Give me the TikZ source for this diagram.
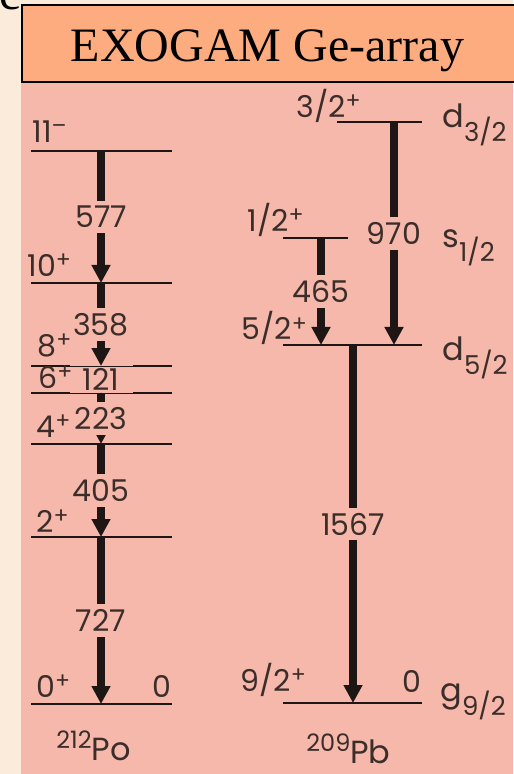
\documentclass[tikz,border=0pt]{standalone}
\usepackage{fontspec}
\setmainfont{Liberation Serif}
\newfontfamily\lblfont{Poppins}
\usetikzlibrary{arrows.meta}
\definecolor{creambg}{HTML}{FBEBDA}
\definecolor{titlebg}{HTML}{FCAC7E}
\definecolor{pinkbg}{HTML}{F5B8AA}
\definecolor{inkline}{HTML}{1E1614}
\definecolor{inktext}{HTML}{3B2D2A}
\newcommand\spup[1]{\raisebox{4.5pt}{\fontsize{11}{11}\selectfont #1}}
\newcommand\spdn[1]{\raisebox{-7pt}{\fontsize{13}{13}\selectfont #1}}
\newcommand\nucl[2]{\raisebox{6pt}{\fontsize{12}{12}\selectfont #1}#2}
\tikzset{
  lvpo/.style={inkline,line width=1.3pt},
  lvpb/.style={inkline,line width=0.8pt},
  gam/.style={inkline,line width=4pt,-{Triangle[width=9pt,length=9pt]}},
  elab/.style={fill=pinkbg,text=inktext,inner xsep=1pt,inner ysep=2.5pt,font=\lblfont\fontsize{15}{15}\selectfont},
  spin/.style={text=inktext,inner sep=0pt,anchor=base west,font=\lblfont\fontsize{15}{15}\selectfont},
  orb/.style={text=inktext,inner sep=0pt,anchor=base west,font=\lblfont\fontsize{16}{16}\selectfont},
  nuc/.style={text=inktext,inner sep=0pt,anchor=base west,font=\lblfont\fontsize{16}{16}\selectfont},
}

\begin{document}
\begin{tikzpicture}[x=0.5pt,y=-0.5pt]
\path[use as bounding box] (0,0) rectangle (513,774);
\fill[creambg] (0,0) rectangle (513,774);
\node[anchor=base west,inner sep=0pt,font=\fontsize{24}{24}\selectfont] (cut) at (-1,10) {c};
\fill[pinkbg] (21,82) rectangle (513,774);
\draw[fill=titlebg,line width=0.7pt] (22,5) rectangle (530,82);
\node[anchor=base,inner sep=0pt,font=\fontsize{24}{24}\selectfont] (title) at (267.5,62) {EXOGAM Ge-array};

\coordinate (po11) at (101,151);
\coordinate (po10) at (101,283);
\coordinate (po8) at (101,366);
\coordinate (po6) at (101,393);
\coordinate (po4) at (101,444);
\coordinate (po2) at (101,537);
\coordinate (po0) at (101,704);
\draw[gam] (po11) -- node[elab] (e577) {577} (po10);
\draw[gam] (po10) -- node[elab] (e358) {358} (po8);
\draw[gam] (po8) -- node[elab,inner ysep=0.5pt] (e121) {121} (po6);
\draw[gam] (po6) -- node[elab] (e223) {223} (po4);
\draw[gam] (po4) -- node[elab] (e405) {405} (po2);
\draw[gam] (po2) -- node[elab] (e727) {727} (po0);

\coordinate (pb32) at (394,122);
\coordinate (pb12) at (321,238);
\coordinate (pb52l) at (321,345);
\coordinate (pb52m) at (353,345);
\coordinate (pb52r) at (394,345);
\coordinate (pb92) at (353,703);
\draw[gam] (pb32) -- node[elab] (e970) {970} (pb52r);
\draw[gam] (pb12) -- node[elab] (e465) {465} (pb52l);
\draw[gam] (pb52m) -- node[elab] (e1567) {1567} (pb92);

\draw[lvpo] (31,151) -- (172,151);
\draw[lvpo] (31,283) -- (172,283);
\draw[inkline,line width=0.5pt] (31,366) -- (172,366) (31,393) -- (172,393);
\draw[lvpo] (31,366) -- (70,366) (133,366) -- (172,366);
\draw[lvpo] (31,393) -- (70,393) (133,393) -- (172,393);
\draw[lvpo] (31,444) -- (172,444);
\draw[lvpo] (31,537) -- (172,537);
\draw[lvpo] (31,704) -- (172,704);
\draw[lvpb] (337,122) -- (422,122);
\draw[lvpb] (283,238) -- (348,238);
\draw[lvpb] (283,345) -- (422,345);
\draw[lvpb] (283,703) -- (422,703);

\node[spin] (j11) at (32,143) {11\spup{–}};
\node[spin] (j10) at (27,277) {10\spup{+}};
\node[spin] (j8) at (37,357) {8\spup{+}};
\node[spin] (j6) at (38,388) {6\spup{+}};
\node[spin] (j4) at (36,437) {4\spup{+}};
\node[spin] (j2) at (36,532) {2\spup{+}};
\node[spin] (j0) at (36,697) {0\spup{+}};
\node[spin] (epo) at (152,697) {0};
\node[spin] (j32) at (296,118) {3/2\spup{+}};
\node[spin] (j12) at (247,232) {1/2\spup{+}};
\node[spin] (j52) at (241,340) {5/2\spup{+}};
\node[spin] (j92) at (240,691) {9/2\spup{+}};
\node[spin] (epb) at (402,692) {0};

\node[orb] (od32) at (442,128) {d\spdn{3/2}};
\node[orb] (os12) at (442,248) {s\spdn{1/2}};
\node[orb] (od52) at (442,360) {d\spdn{5/2}};
\node[orb] (og92) at (440,701) {g\spdn{9/2}};

\node[nuc] (npo) at (56,760) {\nucl{212}{Po}};
\node[nuc] (npb) at (306,763) {\nucl{209}{Pb}};
\end{tikzpicture}
\end{document}
